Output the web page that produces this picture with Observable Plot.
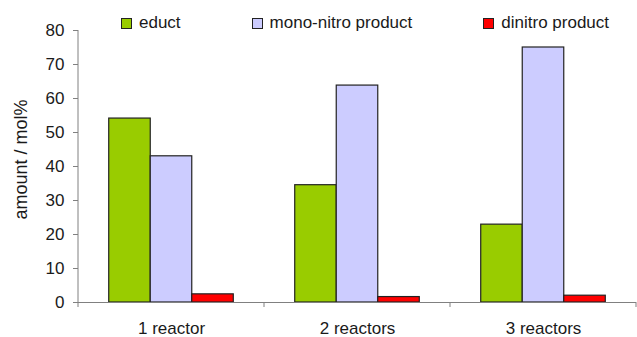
<!DOCTYPE html>
<html>
<head>
<meta charset="utf-8">
<script src="https://cdn.jsdelivr.net/npm/d3@7"></script>
<script src="https://cdn.jsdelivr.net/npm/@observablehq/plot@0.6"></script>
<style>
  html, body { margin: 0; padding: 0; background: #fff; }
  #wrap { position: relative; width: 637px; height: 337px; font-family: "Liberation Sans", Arial, sans-serif; color: #1a1a1a; }
  #legend { position: absolute; top: 14px; left: 121px; display: flex; gap: 71px; font-size: 17px; line-height: 17px; }
  #legend .item { display: flex; align-items: center; white-space: nowrap; }
  #legend .sw { width: 9px; height: 9px; border: 1px solid #222; margin-right: 7px; margin-top: 2px; }
</style>
</head>
<body>
<div id="wrap"><div id="legend"></div></div>
<script>
// Product distribution for one, two and three reactors in series
const reactors = ["1 reactor", "2 reactors", "3 reactors"];
const series = ["educt", "mono-nitro product", "dinitro product"];
const educt = [54.1, 34.5, 22.9];
const monoNitro = [43.0, 63.8, 75.0];
const dinitro = [2.4, 1.6, 2.0];
const seriesColors = ["#99cc00", "#ccccff", "#ff0000"];
const yTicks = [0, 10, 20, 30, 40, 50, 60, 70, 80];

const valuesBySeries = [educt, monoNitro, dinitro];
const rows = reactors.flatMap((reactor, i) =>
  series.map((s, j) => ({reactor, series: s, value: valuesBySeries[j][i]}))
);

const chart = Plot.plot({
  width: 637,
  height: 337,
  marginLeft: 77,
  marginRight: 0,
  marginTop: 30,
  marginBottom: 35,
  style: {fontFamily: "'Liberation Sans', Arial, sans-serif", fontSize: "17px", color: "#1a1a1a", background: "white"},
  fx: {domain: reactors, padding: 0, label: null, tickSize: 0, tickPadding: 19},
  x: {domain: series, paddingInner: 0, paddingOuter: 0.74, round: false, axis: null},
  y: {domain: [0, 80], axis: null},
  color: {domain: series, range: seriesColors},
  marks: [
    Plot.barY(rows, {fx: "reactor", x: "series", y: "value", fill: "series", stroke: "#222", strokeWidth: 1.2, inset: 0}),
    Plot.ruleY([0], {stroke: "#808080"}),
    Plot.axisY({
      ticks: yTicks, tickSize: 5, tickPadding: 9, stroke: "#808080", fill: "#1a1a1a",
      label: "amount / mol%", labelAnchor: "center", labelOffset: 64, labelArrow: "none"
    })
  ]
});

document.getElementById("wrap").appendChild(chart);

const svg = d3.select(chart);
// Larger type for the value axis title, set a little above the frame's middle
svg.selectAll('g[aria-label="y-axis label"] text')
  .attr("font-size", 18).style("font-size", "18px")
  .attr("transform", function() { return (this.getAttribute("transform") || "") + " translate(7,0)"; });

// Value axis line and category separator ticks, placed with the plot's scales
const fx = chart.scale("fx");
const y = chart.scale("y");
const y0 = y.apply(0);
const edges = reactors.map(r => fx.apply(r)).concat(fx.apply(reactors[reactors.length - 1]) + fx.bandwidth);
const g = svg.append("g").attr("stroke", "#808080").attr("stroke-width", 1);
g.append("line").attr("x1", edges[0]).attr("x2", edges[0]).attr("y1", y.apply(80)).attr("y2", y0 + 5);
g.selectAll("line.sep").data(edges.slice(1)).join("line").attr("class", "sep")
  .attr("x1", d => d).attr("x2", d => d).attr("y1", y0).attr("y2", y0 + 5);

// Legend row
const legend = d3.select("#legend");
series.forEach((s, i) => {
  const item = legend.append("div").attr("class", "item");
  item.append("div").attr("class", "sw").style("background", seriesColors[i]);
  item.append("span").text(s);
});
</script>
</body>
</html>
